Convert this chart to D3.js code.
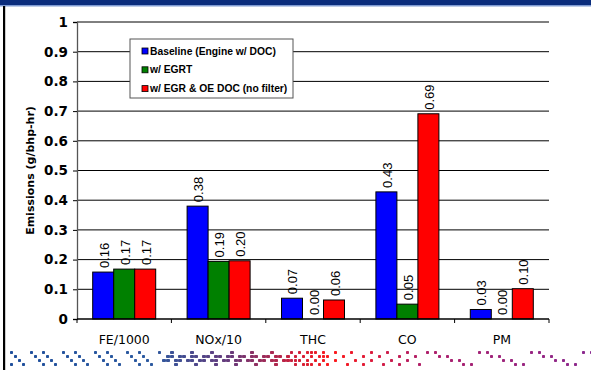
<!DOCTYPE html>
<html>
<head>
<meta charset="utf-8">
<script src="https://cdn.jsdelivr.net/npm/d3@7"></script>
<style>
  html, body { margin: 0; padding: 0; background: #fff; }
  svg { display: block; }
</style>
</head>
<body>
<svg id="chart" width="591" height="370"></svg>
<script>
// Emissions by test configuration
const categories = ["FE/1000", "NOx/10", "THC", "CO", "PM"];
const seriesNames = ["Baseline (Engine w/ DOC)", "w/ EGRT", "w/ EGR & OE DOC (no filter)"];
const baseline = [0.158, 0.380, 0.070, 0.428, 0.032];
const egrt     = [0.168, 0.194, 0.000, 0.050, 0.000];
const egrOeDoc = [0.168, 0.196, 0.064, 0.691, 0.102];
const yTicks = [0, 0.1, 0.2, 0.3, 0.4, 0.5, 0.6, 0.7, 0.8, 0.9, 1];
const colors = ["#0000ff", "#008000", "#ff0000"];

const seriesValues = [baseline, egrt, egrOeDoc];

const svg = d3.select("#chart");
const W = 591, H = 370;
const plot = { left: 77, right: 549, top: 22, bottom: 319 };

// frame: header band and left rule
svg.append("rect").attr("x", 0).attr("y", 0).attr("width", W).attr("height", 5).attr("fill", "#0a2c7c");
svg.append("rect").attr("x", 0).attr("y", 5).attr("width", W).attr("height", 1.5).attr("fill", "#7e9ad2");
svg.append("rect").attr("x", 3).attr("y", 6).attr("width", 2.2).attr("height", H - 6).attr("fill", "#000");

// scales
const y = d3.scaleLinear().domain([0, 1]).range([plot.bottom, plot.top]);
const x0 = d3.scaleBand().domain(categories).range([plot.left, plot.right])
  .paddingInner(0.3326).paddingOuter(0.1663);
const x1 = d3.scaleBand().domain(d3.range(seriesNames.length)).range([0, x0.bandwidth()]).padding(0);

// gridlines
svg.append("g").selectAll("line")
  .data(yTicks.filter(d => d > 0))
  .join("line")
  .attr("x1", plot.left).attr("x2", plot.right)
  .attr("y1", d => y(d)).attr("y2", d => y(d))
  .attr("stroke", "#000").attr("stroke-width", 1);

// y axis
const yAxis = d3.axisLeft(y).tickValues(yTicks).tickSize(4).tickPadding(5)
  .tickFormat(d => (d === 0 || d === 1) ? String(d) : d.toFixed(1));
const gy = svg.append("g").attr("transform", `translate(${plot.left},0)`).call(yAxis);
gy.select(".domain").attr("stroke", "#555").attr("stroke-width", 1.3);
gy.selectAll(".tick line").attr("stroke", "#000");
gy.selectAll(".tick text")
  .attr("font-family", "'DejaVu Sans', Verdana, sans-serif")
  .attr("font-weight", "bold").attr("font-size", 13.5).attr("fill", "#000");

// y axis title
svg.append("text")
  .attr("transform", `translate(34,${(plot.top + plot.bottom) / 2}) rotate(-90)`)
  .attr("text-anchor", "middle")
  .attr("font-family", "'DejaVu Sans', Verdana, sans-serif")
  .attr("font-weight", "bold").attr("font-size", 11)
  .text("Emissions (g/bhp-hr)");

// bars
const groups = svg.append("g").selectAll("g")
  .data(categories)
  .join("g")
  .attr("transform", d => `translate(${x0(d)},0)`);

const barData = (c, ci) => seriesValues.map((vals, si) => ({ cat: c, si, v: vals[ci] }));

groups.selectAll("rect")
  .data((c, ci) => barData(c, ci))
  .join("rect")
  .attr("x", d => x1(d.si))
  .attr("y", d => y(d.v))
  .attr("width", x1.bandwidth())
  .attr("height", d => y(0) - y(d.v))
  .attr("fill", d => colors[d.si])
  .attr("stroke", "#000").attr("stroke-width", 1);

// value labels
groups.selectAll("text.val")
  .data((c, ci) => barData(c, ci))
  .join("text")
  .attr("class", "val")
  .attr("transform", d => `translate(${x1(d.si) + x1.bandwidth() / 2 + 5.5},${y(d.v) - 4}) rotate(-90)`)
  .attr("text-anchor", "start")
  .attr("font-family", "'Liberation Sans', Arial, sans-serif")
  .attr("font-size", 13)
  .attr("fill", "#000")
  .text(d => d.v.toFixed(2));

// x axis line, category boundary ticks and labels
svg.append("line")
  .attr("x1", plot.left).attr("x2", plot.right)
  .attr("y1", y(0)).attr("y2", y(0))
  .attr("stroke", "#000").attr("stroke-width", 1.3);

const step = x0.step();
const boundaries = categories.map(c => x0(c) - (step - x0.bandwidth()) / 2).concat([plot.right]);
svg.append("g").selectAll("line")
  .data(boundaries)
  .join("line")
  .attr("x1", d => d).attr("x2", d => d)
  .attr("y1", y(0)).attr("y2", y(0) + 4)
  .attr("stroke", "#000");

svg.append("g").selectAll("text")
  .data(categories)
  .join("text")
  .attr("x", d => x0(d) + x0.bandwidth() / 2)
  .attr("y", 344)
  .attr("text-anchor", "middle")
  .attr("font-family", "'DejaVu Sans', Verdana, sans-serif")
  .attr("font-size", 12.5)
  .text(d => d);

// legend
const lg = svg.append("g").attr("transform", "translate(130,39)");
lg.append("rect").attr("width", 163).attr("height", 59)
  .attr("fill", "#fff").attr("stroke", "#555").attr("stroke-width", 1);
const items = lg.selectAll("g").data(seriesNames).join("g")
  .attr("transform", (d, i) => `translate(12,${12 + i * 18.8})`);
items.append("rect").attr("x", 0).attr("y", -3).attr("width", 6).attr("height", 6)
  .attr("fill", (d, i) => colors[i]).attr("stroke", "#000").attr("stroke-width", 0.8);
items.append("text").attr("x", 8).attr("y", 3.6)
  .attr("font-family", "'Liberation Sans', Arial, sans-serif")
  .attr("font-weight", "bold").attr("font-size", 10.3)
  .text(d => d);

// decorative pixel band along the bottom
const band = svg.append("g");
const bandColor = d3.scaleLinear()
  .domain([0, 150, 230, 290, 330, 420, 591])
  .range(["#1e4e9c", "#2c5aa0", "#6a3a7a", "#c8203e", "#ff1a1a", "#b0206a", "#8a2a90"]);
const rowsY = [351, 355, 359, 363];
const cells = [];
for (let c = 0; c * 4 + 10 < 591; c++) {
  const cx = 10 + c * 4;
  rowsY.forEach((ry, r) => {
    let on, w = 3;
    if (cx >= 290 && cx < 330) on = ((c + r) % 2 === 0) || ((c * 3 + r) % 5 === 0);
    else if (cx >= 160 && cx < 290) { on = (r === 1 || r === 2) ? ((c + r) % 3 !== 0) : ((c * 2 + r) % 5 === 0); w = 4; }
    else if (cx < 160) on = ((c * 5 + r * 3) % 8 < 2);
    else if (cx < 420) on = ((c * 7 + r * 5) % 9 < 2);
    else on = ((c * 7 + r * 5) % 13 < 2);
    if (on) cells.push({ x: cx, y: ry, w });
  });
}
band.selectAll("rect").data(cells).join("rect")
  .attr("x", d => d.x).attr("y", d => d.y)
  .attr("width", d => d.w).attr("height", 3).attr("rx", 0.8)
  .attr("fill", d => bandColor(d.x));
</script>
</body>
</html>
